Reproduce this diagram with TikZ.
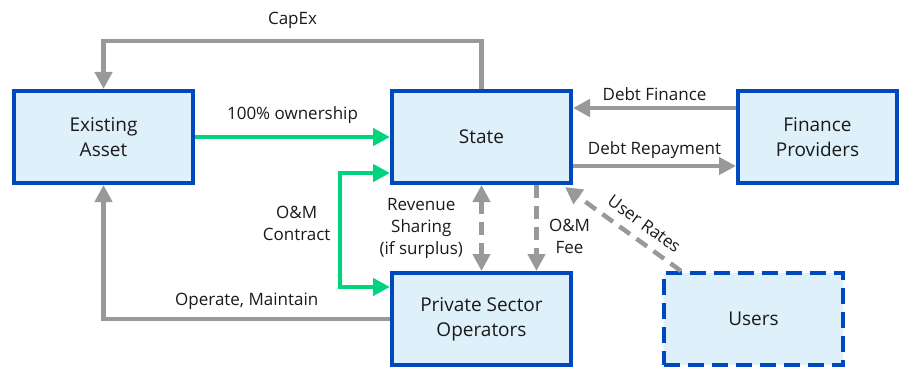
\documentclass[tikz,border=0pt]{standalone}
\usepackage{fontspec}
\setmainfont{Open Sans}
\usetikzlibrary{arrows.meta,positioning}
\definecolor{boxblue}{RGB}{0,72,190}
\definecolor{boxfill}{RGB}{222,240,250}
\definecolor{flowgray}{RGB}{153,153,153}
\definecolor{flowgreen}{RGB}{0,212,125}
\definecolor{inkblack}{RGB}{26,26,26}

\begin{document}
\begin{tikzpicture}[
    x=1pt, y=1pt,
    node distance=86pt and 195pt,
    >={Triangle[length=17pt,width=17pt]},
    box/.style={draw=boxblue, line width=4pt, fill=boxfill, align=center, text=inkblack,
      font=\fontsize{19}{25}\selectfont, minimum width=179pt, minimum height=92pt, inner sep=2pt},
    lbl/.style={font=\fontsize{17}{22}\selectfont, align=center, text=inkblack},
    arrow/.style={->, line width=4.5pt, draw=flowgray},
    ownarrow/.style={arrow, draw=flowgreen},
    dasharrow/.style={arrow, dash pattern=on 13pt off 8pt}
  ]
  \useasboundingbox (0,0) rectangle (905,-369);

  % Parties
  \node[box] (asset) at (103.5,-137) {Existing\\Asset};
  \node[box, right=of asset] (state) {State};
  \node[box, right=163pt of state, minimum width=159pt] (finance) {Finance\\Providers};
  \node[box, below=of state] (operators) {Private Sector\\Operators};
  \node[box, right=89pt of operators, dash pattern=on 16pt off 8pt] (users) {Users};

  % Capital spending
  \draw[arrow] (state.north) -- ++(0,48) -| (asset.north)
    node[pos=0.25, above=7pt, lbl] {CapEx};

  % Ownership and contract
  \draw[ownarrow] (asset) -- (state) node[midway, above=8pt, lbl] {100\% ownership};
  \draw[ownarrow, <->] ([yshift=-36pt]state.west) -- ++(-50,0) |- ([yshift=32pt]operators.west)
    node[pos=0.22, left=4pt, lbl] {O\&M\\Contract};

  % Operation and maintenance
  \draw[arrow] (operators.west) -| (asset.south)
    node[pos=0.25, above=4pt, lbl] {Operate, Maintain};

  % Debt flows
  \draw[arrow] ([yshift=29pt]finance.west) -- ([yshift=29pt]state.east)
    node[midway, above=2pt, lbl] {Debt Finance};
  \draw[arrow] ([yshift=-29pt]state.east) -- ([yshift=-29pt]finance.west)
    node[midway, above=2pt, lbl] {Debt Repayment};

  % Revenue sharing and fees
  \draw[dasharrow, <->] (state) -- (operators)
    node[midway, left=13pt, lbl] {Revenue\\Sharing\\(if surplus)};
  \draw[dasharrow] ([xshift=55pt]state.south) -- ([xshift=55pt]operators.north)
    node[pos=0.6, right=7pt, lbl] {O\&M\\Fee};

  % User charges
  \draw[dasharrow] ([xshift=19pt]users.north west) -- ([xshift=-8pt,yshift=-2pt]state.south east)
    node[pos=0.4, sloped, above=5pt, lbl] {User Rates};
\end{tikzpicture}
\end{document}
